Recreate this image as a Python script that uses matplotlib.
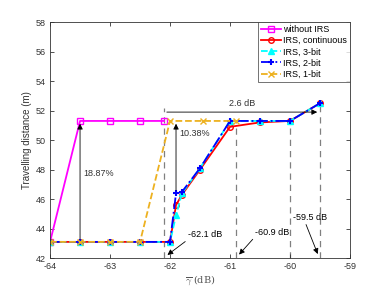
import matplotlib
matplotlib.use('Agg')
import matplotlib.pyplot as plt

# data
x_wo = [-64, -63.5, -63, -62.5, -62.1]
y_wo = [43.1, 51.3, 51.3, 51.3, 51.3]

x_irs = [-64, -63.5, -63, -62.5, -62, -61.9, -61.8, -61.5, -61, -60.5, -60, -59.5]
y_cont = [43.1, 43.1, 43.1, 43.1, 43.1, 45.6, 46.3, 48.0, 50.9, 51.2, 51.3, 52.5]
y_3bit = [43.1, 43.1, 43.1, 43.1, 43.1, 44.9, 46.4, 48.1, 51.3, 51.3, 51.3, 52.5]
y_2bit = [43.1, 43.1, 43.1, 43.1, 43.1, 46.4, 46.5, 48.1, 51.3, 51.3, 51.3, 52.5]

x_1bit = [-64, -63.5, -63, -62.5, -62, -61.45, -60.9]
y_1bit = [43.1, 43.1, 43.1, 43.1, 51.3, 51.3, 51.3]

vlines = [(-62.1, 52.2), (-60.9, 51.3), (-60, 51.3), (-59.5, 52.5)]

plt.rcParams['font.family'] = ['Liberation Sans', 'DejaVu Sans']
plt.rcParams['mathtext.fontset'] = 'cm'
plt.rcParams['axes.unicode_minus'] = False

fig = plt.figure(figsize=(3.88, 2.91), dpi=100)
ax = fig.add_axes([0.129, 0.113, 0.773, 0.811])

orange = '#EDB120'
ax.plot(x_wo, y_wo, color='magenta', marker='s', mfc='none', ms=4, lw=1.3, label='without IRS')
ax.plot(x_irs, y_cont, color='red', marker='o', mfc='none', ms=4, lw=1.3, label='IRS, continuous')
ax.plot(x_irs, y_3bit, color='cyan', marker='^', ls='--', ms=4, lw=1.3, label='IRS, 3-bit')
ax.plot(x_irs, y_2bit, color='blue', marker='+', ls='-.', ms=5, mew=1.5, lw=1.3, label='IRS, 2-bit')
ax.plot(x_1bit, y_1bit, color=orange, marker='x', ls='--', ms=4, lw=1.3, label='IRS, 1-bit')

# dashed gray guides
for xv, top in vlines:
    ax.plot([xv, xv], [42, top], color='gray', ls=(0, (5, 4)), lw=0.9, zorder=1)

arr = dict(arrowstyle='-|>', color='black', lw=0.6, mutation_scale=8)
ax.annotate('', xy=(-63.5, 51.3), xytext=(-63.5, 43.1), arrowprops=arr)
ax.text(-63.45, 47.6, '18.87%', fontsize=6.5, color='#333333')
ax.annotate('', xy=(-61.9, 51.3), xytext=(-61.9, 46.4), arrowprops=arr)
ax.text(-61.85, 50.3, '10.38%', fontsize=6.5, color='#333333')
ax.annotate('', xy=(-59.5, 51.9), xytext=(-62.1, 51.9), arrowprops=arr)
ax.text(-60.8, 52.3, '2.6 dB', fontsize=6.5, ha='center', color='#333333')

ax.annotate('-62.1 dB', xy=(-62.08, 42.1), xytext=(-61.7, 43.4), fontsize=6.5,
            arrowprops=dict(arrowstyle='-|>', color='black', lw=0.6, mutation_scale=8,
                            shrinkA=0, relpos=(0, 0)))
ax.annotate('-60.9 dB', xy=(-60.88, 42.1), xytext=(-60.58, 43.6), fontsize=6.5,
            arrowprops=dict(arrowstyle='-|>', color='black', lw=0.6, mutation_scale=8,
                            shrinkA=0, relpos=(0, 0)))
ax.annotate('-59.5 dB', xy=(-59.52, 42.1), xytext=(-59.95, 44.6), fontsize=6.5,
            arrowprops=dict(arrowstyle='-|>', color='black', lw=0.6, mutation_scale=8,
                            shrinkA=0, relpos=(0.35, 0)))

ax.set_xlim(-64, -59)
ax.set_ylim(42, 58)
ax.set_xticks([-64, -63, -62, -61, -60, -59])
ax.set_yticks(range(42, 59, 2))
ax.tick_params(direction='in', top=True, right=True, labelsize=6.5, length=3, width=0.6,
               colors='#333333', pad=3)
for s in ax.spines.values():
    s.set_color('#333333')
    s.set_linewidth(0.6)

ax.set_xlabel(r'$\overline{\gamma}$ (dB)', fontsize=7, family='serif', color='#555555', labelpad=2)
ax.set_ylabel('Travelling distance (m)', fontsize=7, color='#333333', labelpad=3)

leg = ax.legend(loc='upper right', fontsize=6.5, frameon=True, fancybox=False,
                borderpad=0.3, labelspacing=0.25, handlelength=2.2, handletextpad=0.3,
                borderaxespad=0)
leg.get_frame().set_edgecolor('#333333')
leg.get_frame().set_linewidth(0.6)

plt.savefig('out.png', dpi=100)
